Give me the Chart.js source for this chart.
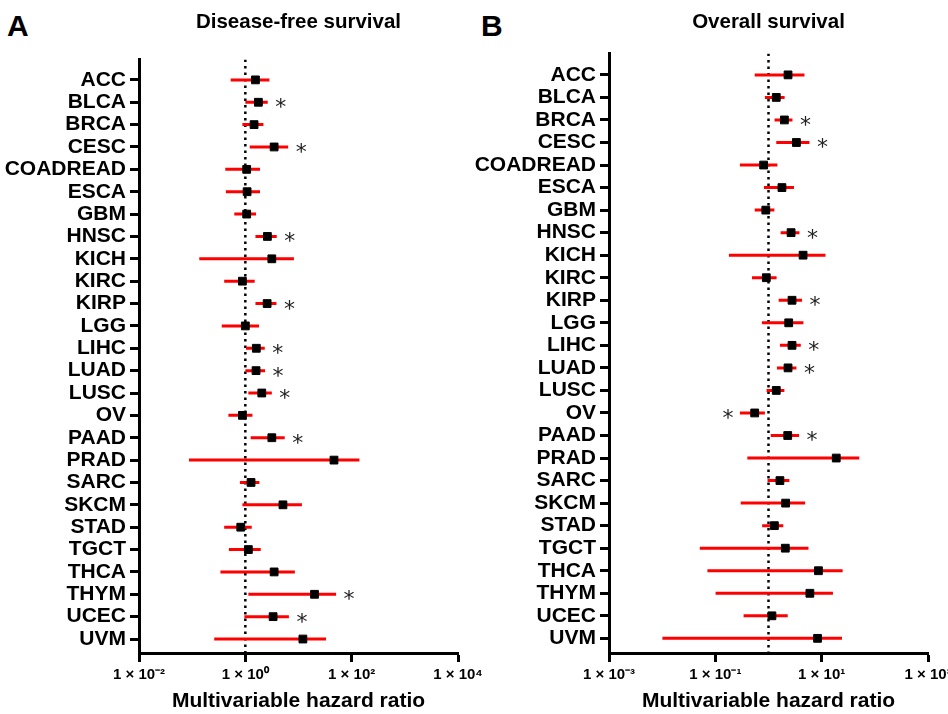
<!DOCTYPE html>
<html>
<head>
<meta charset="utf-8">
<script src="https://cdn.jsdelivr.net/npm/chart.js@4.4.1/dist/chart.umd.min.js"></script>
<style>
  html, body { margin: 0; padding: 0; background: #fff; }
  body { width: 948px; height: 714px; position: relative; overflow: hidden; font-family: "Liberation Sans", Arial, sans-serif; }
  canvas { position: absolute; top: 0; }
  #cA { left: 0; }
  #cB { left: 474px; }
  .letter { position: absolute; font-weight: bold; font-size: 30px; line-height: 30px; color: #000; }
</style>
</head>
<body>
<div class="letter" style="left:7px; top:11px;">A</div>
<div class="letter" style="left:481px; top:11px;">B</div>
<canvas id="cA" width="500" height="714"></canvas>
<canvas id="cB" width="474" height="714"></canvas>
<script>
const categories = ["ACC","BLCA","BRCA","CESC","COADREAD","ESCA","GBM","HNSC","KICH","KIRC","KIRP","LGG","LIHC","LUAD","LUSC","OV","PAAD","PRAD","SARC","SKCM","STAD","TGCT","THCA","THYM","UCEC","UVM"];

// Panel A: Disease-free survival
const dfsHR = [1.55, 1.76, 1.46, 3.48, 1.06, 1.08, 1.06, 2.6, 3.15, 0.88, 2.57, 1.0, 1.61, 1.59, 2.04, 0.88, 3.15, 46.5, 1.28, 5.1, 0.82, 1.14, 3.48, 20, 3.33, 12.1];
const dfsLo = [0.53, 1.0, 0.88, 1.21, 0.42, 0.43, 0.62, 1.55, 0.136, 0.40, 1.55, 0.36, 1.03, 1.0, 1.14, 0.48, 1.26, 0.087, 0.79, 0.88, 0.40, 0.49, 0.34, 1.14, 0.96, 0.26];
const dfsHi = [2.84, 2.64, 2.19, 6.4, 1.89, 1.89, 1.59, 3.9, 8.2, 1.5, 3.85, 1.81, 2.32, 2.35, 3.15, 1.36, 5.5, 140, 1.84, 11.6, 1.32, 1.95, 8.55, 51, 6.6, 33];
const dfsSig = [0,1,0,1,0,0,0,1,0,0,1,0,1,1,1,0,1,0,0,0,0,0,0,1,1,0];
const dfsTicks = [0.01, 1, 100, 10000];
const dfsTickLabels = ["1 \u00d7 10\u207b\u00b2", "1 \u00d7 10\u2070", "1 \u00d7 10\u00b2", "1 \u00d7 10\u2074"];

// Panel B: Overall survival
const osHR = [2.33, 1.40, 1.99, 3.35, 0.81, 1.79, 0.89, 2.66, 4.47, 0.91, 2.77, 2.40, 2.77, 2.33, 1.40, 0.55, 2.30, 18.8, 1.64, 2.10, 1.29, 2.07, 8.7, 6.0, 1.16, 8.36];
const osLo = [0.55, 0.855, 1.30, 1.40, 0.29, 0.82, 0.55, 1.69, 0.18, 0.49, 1.55, 0.75, 1.64, 1.44, 0.92, 0.29, 1.10, 0.40, 0.96, 0.30, 0.76, 0.051, 0.071, 0.101, 0.34, 0.0101];
const osHi = [4.75, 2.01, 2.82, 5.9, 1.47, 3.02, 1.29, 3.82, 11.8, 1.42, 4.28, 4.54, 4.05, 3.35, 1.99, 0.855, 3.76, 51, 2.47, 4.88, 1.90, 5.65, 24.8, 16.3, 2.30, 24.1];
const osSig = [0,0,1,1,0,0,0,1,0,0,1,0,1,1,0,-1,1,0,0,0,0,0,0,0,0,0];
const osTicks = [0.001, 0.1, 10, 1000];
const osTickLabels = ["1 \u00d7 10\u207b\u00b3", "1 \u00d7 10\u207b\u00b9", "1 \u00d7 10\u00b9", "1 \u00d7 10\u00b3"];

Chart.defaults.font.family = '"Liberation Sans", Arial, sans-serif';
Chart.defaults.color = '#000';

const asteriskPlugin = {
  id: 'asterisks',
  afterDatasetsDraw(chart, args, opts) {
    const ctx = chart.ctx, xs = chart.scales.x, ys = chart.scales.y;
    ctx.save();
    ctx.fillStyle = '#222';
    ctx.font = '22px "DejaVu Sans", sans-serif';
    ctx.textAlign = 'center';
    ctx.textBaseline = 'alphabetic';
    const m = ctx.measureText('*');
    const off = (m.actualBoundingBoxAscent - m.actualBoundingBoxDescent) / 2;
    opts.sig.forEach((s, i) => {
      if (!s) return;
      const x = s > 0 ? xs.getPixelForValue(opts.hi[i]) + 13 : xs.getPixelForValue(opts.lo[i]) - 12;
      const y = ys.getPixelForValue(i);
      ctx.fillText('*', x, y + off + 1);
    });
    ctx.restore();
  }
};

function makeChart(id, p) {
  const ci = [];
  p.lo.forEach((l, i) => { ci.push({x: l, y: i}, {x: p.hi[i], y: i}, {x: null, y: null}); });
  const pts = p.hr.map((v, i) => ({x: v, y: i}));
  return new Chart(document.getElementById(id), {
    type: 'scatter',
    data: {
      datasets: [
        { data: pts, pointStyle: 'rect', pointRadius: 5.5, pointBackgroundColor: '#000', pointBorderColor: '#000', pointBorderWidth: 1, showLine: false, order: 0 },
        { data: ci, showLine: true, spanGaps: false, borderColor: '#ff0000', borderWidth: 3, pointRadius: 0, order: 1 },
        { data: [{x: 1, y: p.yMin}, {x: 1, y: p.yMax}], showLine: true, borderColor: '#000', borderWidth: 2.5, borderDash: [2.5, 4], pointRadius: 0, order: 2 }
      ]
    },
    options: {
      responsive: false,
      animation: false,
      devicePixelRatio: 1,
      layout: { autoPadding: false, padding: { left: 0, right: p.padRight, top: 0, bottom: 0 } },
      plugins: {
        legend: { display: false },
        tooltip: { enabled: false },
        title: { display: true, text: p.title, fullSize: false, color: '#000', font: { size: 20.5, weight: 'bold' }, padding: { top: 10, bottom: p.titlePadBottom } },
        asterisks: { sig: p.sig, lo: p.lo, hi: p.hi }
      },
      scales: {
        x: {
          type: 'logarithmic', min: p.ticks[0], max: p.ticks[p.ticks.length - 1],
          afterBuildTicks: s => { s.ticks = p.ticks.map(v => ({ value: v })); },
          afterFit: s => { s.height = 61; s.paddingLeft = 0; s.paddingRight = 0; },
          ticks: { callback: (v, i) => p.tickLabels[i], font: { size: 15, weight: 'bold' }, color: '#000', padding: 4, maxRotation: 0, autoSkip: false },
          grid: { drawOnChartArea: false, drawTicks: true, tickLength: 9, tickWidth: 3, tickColor: '#000' },
          border: { display: true, width: 3, color: '#000' },
          title: { display: true, text: 'Multivariable hazard ratio', color: '#000', font: { size: 21, weight: 'bold' }, padding: { top: 0, bottom: 0 } }
        },
        y: {
          type: 'linear', reverse: true, min: p.yMin, max: p.yMax,
          afterBuildTicks: s => { s.ticks = categories.map((c, i) => ({ value: i })); },
          afterFit: s => { s.width = p.yWidth; s.paddingTop = 0; s.paddingBottom = 0; },
          ticks: { callback: (v, i) => categories[i], font: { size: 21, weight: 'bold' }, color: '#000', padding: 4, autoSkip: false },
          grid: { drawOnChartArea: false, drawTicks: true, tickLength: 9, tickWidth: 3, tickColor: '#000' },
          border: { display: true, width: 3, color: '#000' }
        }
      }
    },
    plugins: [asteriskPlugin]
  });
}

makeChart('cA', { hr: dfsHR, lo: dfsLo, hi: dfsHi, sig: dfsSig, ticks: dfsTicks, tickLabels: dfsTickLabels,
  title: 'Disease-free survival', yMin: -0.907, yMax: 25.625, yWidth: 139, padRight: 42, titlePadBottom: 25 });
makeChart('cB', { hr: osHR, lo: osLo, hi: osHi, sig: osSig, ticks: osTicks, tickLabels: osTickLabels,
  title: 'Overall survival', yMin: -0.944, yMax: 25.65, yWidth: 135, padRight: 20, titlePadBottom: 19 });
</script>
</body>
</html>
